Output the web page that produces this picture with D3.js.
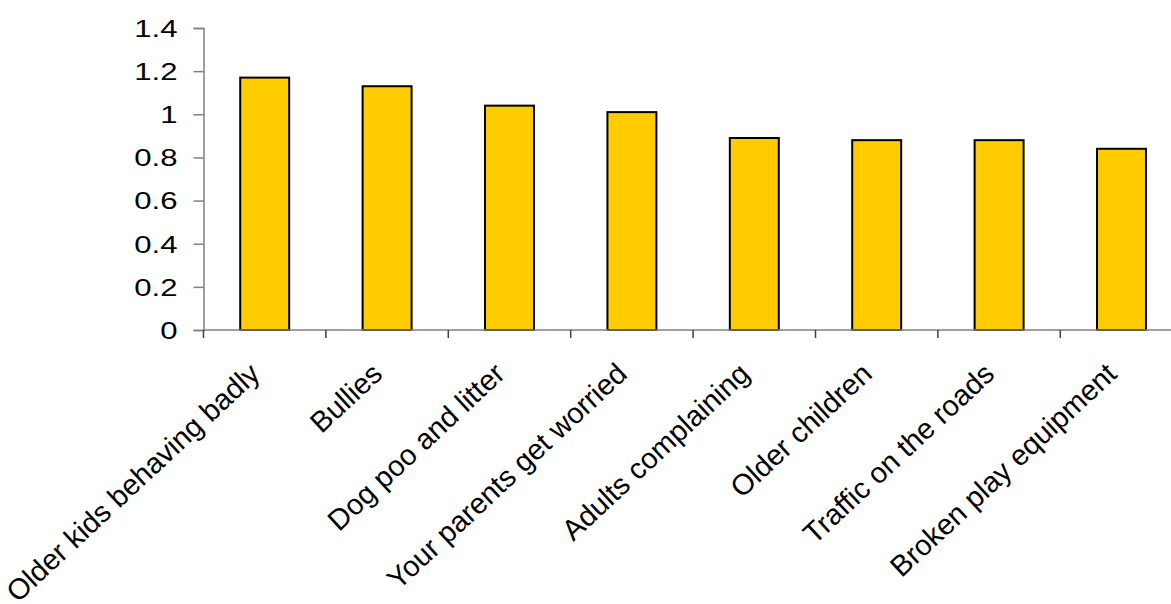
<!DOCTYPE html>
<html>
<head>
<meta charset="utf-8">
<script src="https://cdn.jsdelivr.net/npm/d3@7"></script>
<style>
  body { margin: 0; background: #fff; }
  svg { display: block; font-family: Arial, "Liberation Sans", sans-serif; }
</style>
</head>
<body>
<div id="chart"></div>
<script>
// Chart data.
var categories = ["Older kids behaving badly", "Bullies", "Dog poo and litter",
    "Your parents get worried", "Adults complaining", "Older children",
    "Traffic on the roads", "Broken play equipment"];
var values = [1.17, 1.13, 1.04, 1.01, 0.89, 0.88, 0.88, 0.84];
var yTicks = [0, 0.2, 0.4, 0.6, 0.8, 1, 1.2, 1.4];

var width = 1171,
    height = 604,
    margin = {top: 28, left: 203.5, bottom: 274};

// The original picture is stretched sideways, so the tick text is too.
var stretch = 1.27;

var svg = d3.select("#chart").append("svg")
    .attr("width", width)
    .attr("height", height);

// The plot area runs past the right edge of the picture, as in the original.
var x = d3.scaleBand()
    .domain(categories)
    .range([margin.left, margin.left + 8 * 122.4])
    .paddingInner(0.6)
    .paddingOuter(0.3);

var y = d3.scaleLinear()
    .domain([0, 1.4])
    .range([height - margin.bottom, margin.top]);

// Bars
svg.append("g").selectAll("rect")
    .data(values)
    .enter().append("rect")
    .attr("x", function(d, i) { return x(categories[i]); })
    .attr("y", function(d) { return y(d); })
    .attr("width", x.bandwidth())
    .attr("height", function(d) { return y(0) - y(d); })
    .attr("fill", "#ffcc00")
    .attr("stroke", "#000")
    .attr("stroke-width", 2);

// Y axis
var yAxis = svg.append("g")
    .attr("transform", "translate(" + margin.left + ",0)")
    .call(d3.axisLeft(y).tickValues(yTicks).tickSize(10)
        .tickFormat(function(d) { return d3.format("")(d); }));
yAxis.select(".domain").attr("stroke", "#808080").attr("stroke-width", 1.5);
yAxis.selectAll(".tick line").attr("stroke", "#808080").attr("stroke-width", 1.5);
yAxis.selectAll("text")
    .attr("x", 0)
    .attr("dy", "0.34em")
    .attr("transform", "translate(-26,0) scale(" + stretch + ",1)")
    .attr("fill", "#000")
    .style("font-size", "24.5px");

// X axis with ticks between categories
var xAxis = svg.append("g")
    .attr("transform", "translate(0," + y(0) + ")");
xAxis.append("line")
    .attr("x1", margin.left).attr("x2", width)
    .attr("stroke", "#808080").attr("stroke-width", 1.5);
xAxis.selectAll(".sep")
    .data(categories)
    .enter().append("line")
    .attr("class", "sep")
    .attr("x1", function(d) { return x(d) - x.step() * 0.3; })
    .attr("x2", function(d) { return x(d) - x.step() * 0.3; })
    .attr("y1", 0).attr("y2", 8)
    .attr("stroke", "#404040").attr("stroke-width", 1.5);

xAxis.selectAll(".label")
    .data(categories)
    .enter().append("text")
    .attr("class", "label")
    .attr("transform", function(d) {
        return "translate(" + (x(d) + x.bandwidth() / 2 - 3) + ",46) rotate(-43)";
    })
    .attr("text-anchor", "end")
    .style("font-size", "29px")
    .attr("fill", "#000")
    .text(function(d) { return d; });
</script>
</body>
</html>
